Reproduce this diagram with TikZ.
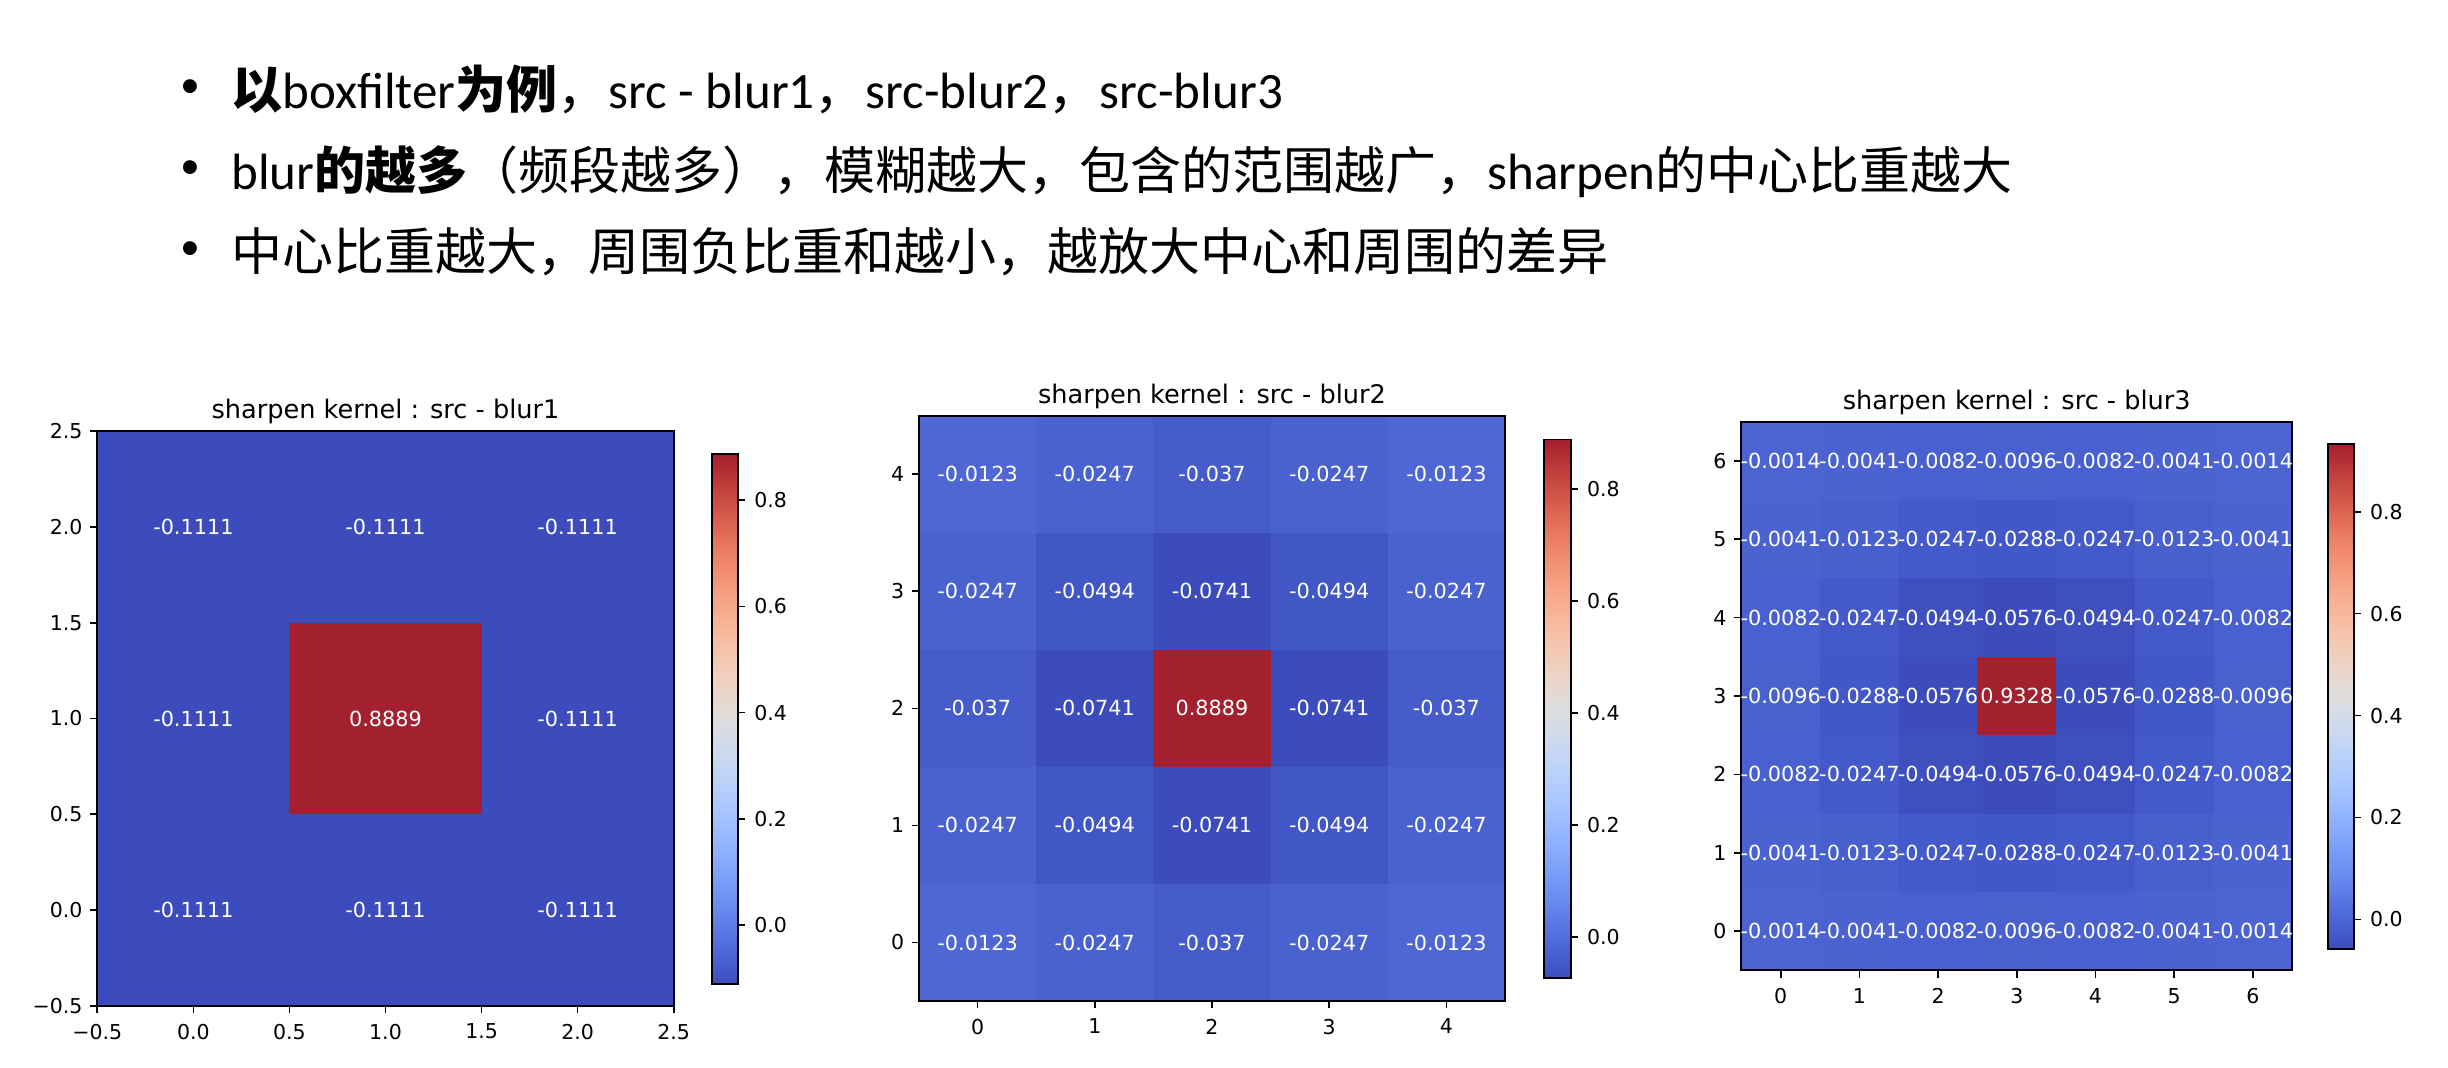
\documentclass[tikz,border=0pt]{standalone}
\usepackage{fontspec}
\setmainfont{DejaVu Sans}
\newfontfamily\cjk{Noto Sans CJK SC}
\newfontfamily\lat{Carlito}
\newfontfamily\bulfont{Liberation Sans}
% coolwarm table
\definecolor{cw0}{RGB}{60,76,188}
\definecolor{cw1}{RGB}{68,90,204}
\definecolor{cw2}{RGB}{77,104,215}
\definecolor{cw3}{RGB}{87,117,225}
\definecolor{cw4}{RGB}{98,130,234}
\definecolor{cw5}{RGB}{108,142,241}
\definecolor{cw6}{RGB}{119,154,247}
\definecolor{cw7}{RGB}{130,165,251}
\definecolor{cw8}{RGB}{141,176,254}
\definecolor{cw9}{RGB}{152,185,255}
\definecolor{cw10}{RGB}{163,194,255}
\definecolor{cw11}{RGB}{174,201,253}
\definecolor{cw12}{RGB}{184,208,249}
\definecolor{cw13}{RGB}{194,213,244}
\definecolor{cw14}{RGB}{204,217,238}
\definecolor{cw15}{RGB}{213,219,230}
\definecolor{cw16}{RGB}{221,221,221}
\definecolor{cw17}{RGB}{229,216,209}
\definecolor{cw18}{RGB}{236,211,197}
\definecolor{cw19}{RGB}{241,204,185}
\definecolor{cw20}{RGB}{245,196,173}
\definecolor{cw21}{RGB}{247,187,160}
\definecolor{cw22}{RGB}{247,177,148}
\definecolor{cw23}{RGB}{247,166,135}
\definecolor{cw24}{RGB}{244,154,123}
\definecolor{cw25}{RGB}{241,141,111}
\definecolor{cw26}{RGB}{236,127,99}
\definecolor{cw27}{RGB}{227,112,88}
\definecolor{cw28}{RGB}{217,96,78}
\definecolor{cw29}{RGB}{205,80,68}
\definecolor{cw30}{RGB}{193,64,60}
\definecolor{cw31}{RGB}{180,46,52}
\definecolor{cw32}{RGB}{164,32,46}
% cell colours plot 2
\definecolor{q0123}{RGB}{78,103,212}
\definecolor{q0247}{RGB}{74,98,208}
\definecolor{q037}{RGB}{70,92,203}
\definecolor{q0494}{RGB}{66,87,198}
\definecolor{q0741}{RGB}{60,76,188}
\definecolor{qred}{RGB}{163,32,46}
% cell colours plot 3
\definecolor{r0014}{RGB}{76,100,210}
\definecolor{r0041}{RGB}{75,99,209}
\definecolor{r0082}{RGB}{73,97,208}
\definecolor{r0096}{RGB}{73,97,207}
\definecolor{r0123}{RGB}{72,95,206}
\definecolor{r0247}{RGB}{69,90,202}
\definecolor{r0288}{RGB}{67,88,200}
\definecolor{r0494}{RGB}{62,80,192}
\definecolor{r0576}{RGB}{60,76,188}
\definecolor{rred}{RGB}{163,32,46}
\pgfdeclareverticalshading{coolwarm}{100bp}{color(0bp)=(cw0); color(25bp)=(cw0);
 color(26.5625bp)=(cw1); color(28.125bp)=(cw2); color(29.6875bp)=(cw3); color(31.25bp)=(cw4);
 color(32.8125bp)=(cw5); color(34.375bp)=(cw6); color(35.9375bp)=(cw7); color(37.5bp)=(cw8);
 color(39.0625bp)=(cw9); color(40.625bp)=(cw10); color(42.1875bp)=(cw11); color(43.75bp)=(cw12);
 color(45.3125bp)=(cw13); color(46.875bp)=(cw14); color(48.4375bp)=(cw15); color(50bp)=(cw16);
 color(51.5625bp)=(cw17); color(53.125bp)=(cw18); color(54.6875bp)=(cw19); color(56.25bp)=(cw20);
 color(57.8125bp)=(cw21); color(59.375bp)=(cw22); color(60.9375bp)=(cw23); color(62.5bp)=(cw24);
 color(64.0625bp)=(cw25); color(65.625bp)=(cw26); color(67.1875bp)=(cw27); color(68.75bp)=(cw28);
 color(70.3125bp)=(cw29); color(71.875bp)=(cw30); color(73.4375bp)=(cw31); color(75bp)=(cw32);
 color(100bp)=(cw32)}
\tikzset{
  spine/.style={draw=black, line width=0.83pt},
  tck/.style={draw=black, line width=0.83pt},
  lbl/.style={font=\fontsize{10.25}{12}\selectfont, inner sep=0pt, text=black},
  val/.style={font=\fontsize{10.4}{12}\selectfont, inner sep=0pt, text=white},
  ttl/.style={font=\fontsize{12.8}{15}\selectfont, inner sep=0pt, anchor=base, text=black},
  bullettext/.style={font=\fontsize{25.5}{30}\selectfont, inner sep=0pt, anchor=base west, text=black},
  bulletmark/.style={font=\bulfont\fontsize{25.5}{30}\selectfont, inner sep=0pt, anchor=center, text=black},
  cbar/.style={shading=coolwarm},
}
\def\rowA{q0123/-0.0123,q0247/-0.0247,q037/-0.037,q0247/-0.0247,q0123/-0.0123}
\def\rowB{q0247/-0.0247,q0494/-0.0494,q0741/-0.0741,q0494/-0.0494,q0247/-0.0247}
\def\rowC{q037/-0.037,q0741/-0.0741,qred/0.8889,q0741/-0.0741,q037/-0.037}
\def\rowP{r0014/-0.0014,r0041/-0.0041,r0082/-0.0082,r0096/-0.0096,r0082/-0.0082,r0041/-0.0041,r0014/-0.0014}
\def\rowQ{r0041/-0.0041,r0123/-0.0123,r0247/-0.0247,r0288/-0.0288,r0247/-0.0247,r0123/-0.0123,r0041/-0.0041}
\def\rowR{r0082/-0.0082,r0247/-0.0247,r0494/-0.0494,r0576/-0.0576,r0494/-0.0494,r0247/-0.0247,r0082/-0.0082}
\def\rowS{r0096/-0.0096,r0288/-0.0288,r0576/-0.0576,rred/0.9328,r0576/-0.0576,r0288/-0.0288,r0096/-0.0096}
\begin{document}
\begin{tikzpicture}[x=0.5pt,y=-0.5pt]
\useasboundingbox (0,0) rectangle (2448,1068);
\fill[white] (0,0) rectangle (2448,1068);

% ---------------- bullets ----------------
\node[bulletmark] (m1) at (190,92) {•};
\node[bulletmark] (m2) at (190,173) {•};
\node[bulletmark] (m3) at (190,254) {•};
\node[bullettext] (l1) at (231,109) {{\cjk\bfseries 以}{\lat boxfilter}{\cjk\bfseries 为例}{\cjk ，}{\lat src - blur1}{\cjk ，}{\lat src-blur2}{\cjk ，}{\lat src-blur3}};
\node[bullettext] (l2) at (231,190) {{\lat blur}{\cjk\bfseries 的越多}{\cjk （频段越多），模糊越大，包含的范围越广，}{\lat sharpen}{\cjk 的中心比重越大}};
\node[bullettext] (l3) at (231,271) {{\cjk 中心比重越大，周围负比重和越小，越放大中心和周围的差异}};

% ---------------- plot 1 ----------------
\fill[cw0] (97.3,431) rectangle (673.7,1006);
\fill[qred] (289.4,622.7) rectangle (481.6,814.4);
\draw[spine] (97.3,431) rectangle (673.7,1006);
\node[ttl] (t1) at (385.5,419) {sharpen kernel : src - blur1};
\foreach \x/\y [count=\k] in {193.4/526.75,385.5/526.75,577.6/526.75,193.4/718.5,577.6/718.5,193.4/910.25,385.5/910.25,577.6/910.25}
  \node[val] (a\k) at (\x,\y) {-0.1111};
\node[val] (a0) at (385.5,718.5) {0.8889};
\foreach \y/\t [count=\k] in {431/2.5,526.8/2.0,622.7/1.5,718.5/1.0,814.3/0.5,910.2/0.0,1006/−0.5}{
  \draw[tck] (97.3,\y) -- (90,\y);
  \node[lbl, anchor=east] (ay\k) at (82.8,\y) {\t};
}
\foreach \x/\t [count=\k] in {97.3/−0.5,193.4/0.0,289.4/0.5,385.5/1.0,481.6/1.5,577.6/2.0,673.7/2.5}{
  \draw[tck] (\x,1006) -- (\x,1013.3);
  \node[lbl, anchor=north] (ax\k) at (\x,1023.5) {\t};
}
\shade[cbar] (711.7,454.3) rectangle (738,984.3);
\draw[spine] (711.7,454.3) rectangle (738,984.3);
\foreach \y/\t [count=\k] in {925/0.0,818.8/0.2,712.6/0.4,606.5/0.6,500.3/0.8}{
  \draw[tck] (738,\y) -- (745.3,\y);
  \node[lbl, anchor=west] (ac\k) at (754,\y) {\t};
}

% ---------------- plot 2 ----------------
\foreach \r/\rl in {0/rowA,1/rowB,2/rowC,3/rowB,4/rowA}{
  \edef\rlx{\csname\rl\endcsname}
  \foreach \c/\t [count=\jj from 0] in \rlx {
    \fill[\c] ({919+\jj*117.2},{1001-(\r+1)*117.06}) rectangle ++(117.2,117.06);
  }
}
\draw[spine] (919,415.7) rectangle (1505,1001);
\foreach \r/\rl in {0/rowA,1/rowB,2/rowC,3/rowB,4/rowA}{
  \edef\rlx{\csname\rl\endcsname}
  \foreach \c/\t [count=\jj from 0] in \rlx {
    \node[val] (b\r\jj) at ({919+(\jj+0.5)*117.2},{1001-(\r+0.5)*117.06}) {\t};
  }
}
\node[ttl] (t2) at (1212,403.7) {sharpen kernel : src - blur2};
\foreach \k in {0,...,4}{
  \draw[tck] (919,{1001-(\k+0.5)*117.06}) -- (911.7,{1001-(\k+0.5)*117.06});
  \node[lbl, anchor=east] (by\k) at (904.5,{1001-(\k+0.5)*117.06}) {\k};
  \draw[tck] ({919+(\k+0.5)*117.2},1001) -- ({919+(\k+0.5)*117.2},1008.3);
  \node[lbl, anchor=north] (bx\k) at ({919+(\k+0.5)*117.2},1018.5) {\k};
}
\shade[cbar] (1543.7,439.5) rectangle (1570.7,978.2);
\draw[spine] (1543.7,439.5) rectangle (1570.7,978.2);
\foreach \y/\t [count=\k] in {936.7/0.0,824.8/0.2,712.9/0.4,601.0/0.6,489.0/0.8}{
  \draw[tck] (1570.7,\y) -- (1578,\y);
  \node[lbl, anchor=west] (bc\k) at (1586.7,\y) {\t};
}

% ---------------- plot 3 ----------------
\foreach \r/\rl in {0/rowP,1/rowQ,2/rowR,3/rowS,4/rowR,5/rowQ,6/rowP}{
  \edef\rlx{\csname\rl\endcsname}
  \foreach \c/\t [count=\jj from 0] in \rlx {
    \fill[\c] ({1741.3+\jj*78.71},{970.3-(\r+1)*78.37}) rectangle ++(78.71,78.37);
  }
}
\draw[spine] (1741.3,421.7) rectangle (2292.3,970.3);
\foreach \r/\rl in {0/rowP,1/rowQ,2/rowR,3/rowS,4/rowR,5/rowQ,6/rowP}{
  \edef\rlx{\csname\rl\endcsname}
  \foreach \c/\t [count=\jj from 0] in \rlx {
    \node[val] (c\r\jj) at ({1741.3+(\jj+0.5)*78.71},{970.3-(\r+0.5)*78.37}) {\t};
  }
}
\node[ttl] (t3) at (2016.8,409.7) {sharpen kernel : src - blur3};
\foreach \k in {0,...,6}{
  \draw[tck] (1741.3,{970.3-(\k+0.5)*78.37}) -- (1734,{970.3-(\k+0.5)*78.37});
  \node[lbl, anchor=east] (cy\k) at (1726.8,{970.3-(\k+0.5)*78.37}) {\k};
  \draw[tck] ({1741.3+(\k+0.5)*78.71},970.3) -- ({1741.3+(\k+0.5)*78.71},977.6);
  \node[lbl, anchor=north] (cx\k) at ({1741.3+(\k+0.5)*78.71},988) {\k};
}
\shade[cbar] (2328.3,444) rectangle (2353.7,948.9);
\draw[spine] (2328.3,444) rectangle (2353.7,948.9);
\foreach \y/\t [count=\k] in {919.5/0.0,817.5/0.2,715.6/0.4,613.6/0.6,511.7/0.8}{
  \draw[tck] (2353.7,\y) -- (2361,\y);
  \node[lbl, anchor=west] (cc\k) at (2369.7,\y) {\t};
}
\end{tikzpicture}
\end{document}
